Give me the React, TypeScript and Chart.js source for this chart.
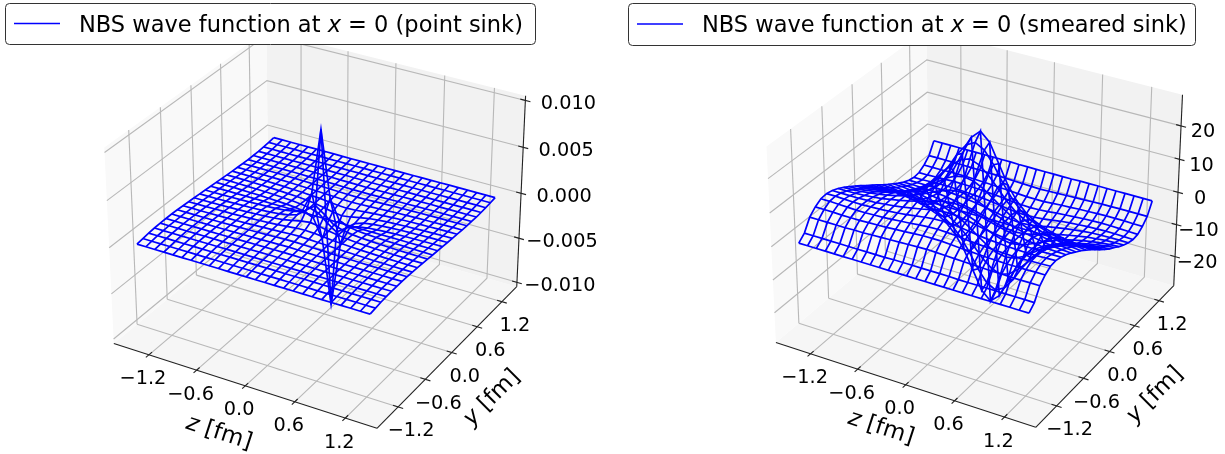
import React, { useEffect, useRef } from "react";
import { Chart, registerables } from "chart.js";

Chart.register(...registerables);

const latticeFm = [-1.44,-1.328,-1.216,-1.104,-0.992,-0.88,-0.768,-0.656,-0.544,-0.432,-0.32,-0.208,-0.096,0.016,0.128,0.24,0.352,0.464,0.576,0.688,0.8,0.912,1.024,1.136,1.248,1.36];
const latticeIndex = [-13,-12,-11,-10,-9,-8,-7,-6,-5,-4,-3,-2,-1,0,1,2,3,4,5,6,7,8,9,10,11,12];
const spaceTicks = [-1.2,-0.6,0,0.6,1.2];
const spaceTickLabels = ["\u22121.2","\u22120.6","0.0","0.6","1.2"];
const pointValueTicks = [-0.01,-0.005,0,0.005,0.01];
const pointValueLabels = ["\u22120.010","\u22120.005","0.000","0.005","0.010"];
const smearedValueTicks = [-20,-10,0,10,20];
const smearedValueLabels = ["\u221220","\u221210","0","10","20"];

// amplitude on y<0 by |y index| (rows) and |z index| (columns), 1e-4 units
const pointSinkAmplitude = [
  [0,0,0,0,0,0,0,0,0,0,0,0,0,0],
  [100,30,9,5,3.3,2.5,1.9,1.5,1.2,1,0.8,0.6,0.5,0.5],
  [24,17,9,5.8,4.3,3.3,2.7,2.2,1.9,1.6,1.4,1.2,1.1,1],
  [11,9.5,7.5,5.6,4.5,3.7,3.2,2.7,2.4,2.1,1.9,1.7,1.6,1.5],
  [7.5,7,6,5,4.4,3.8,3.4,3,2.7,2.5,2.3,2.2,2.1,2],
  [5.8,5.5,5,4.6,4.1,3.7,3.4,3.1,2.9,2.8,2.6,2.5,2.5,2.4],
  [4.9,4.7,4.4,4.1,3.8,3.6,3.4,3.2,3,2.9,2.8,2.8,2.8,2.8],
  [4.2,4.1,3.9,3.7,3.5,3.4,3.2,3.1,3,3,3,3,3,3],
  [3.7,3.6,3.5,3.4,3.3,3.2,3.1,3,3,3,3,3,3,3],
  [3.2,3.2,3.1,3,3,2.9,2.9,2.9,2.9,2.9,2.9,2.9,2.9,2.9],
  [2.7,2.7,2.6,2.6,2.6,2.6,2.6,2.6,2.5,2.5,2.5,2.5,2.5,2.5],
  [2,2,2,2,2,2,2,1.9,1.9,1.9,1.9,1.9,1.9,1.9],
  [1.1,1.1,1.1,1.1,1.1,1.1,1,1,1,1,1,1,1,1],
  [0,0,0,0,0,0,0,0,0,0,0,0,0,0],
];
const smearedSinkAmplitude = [
  [0,0,0,0,0,0,0,0,0,0,0,0,0,0],
  [27,24.5,19,13.5,9.5,6.8,5,3.9,3.1,2.5,2.1,1.7,1.4,1.2],
  [25,23.5,20,15.5,11.7,8.8,6.9,5.6,4.7,4,3.4,3,2.7,2.5],
  [21.5,20.5,18.3,15.3,12.2,9.8,8.1,6.9,5.9,5.2,4.6,4.2,3.9,3.7],
  [17.5,17,15.7,13.8,11.8,10,8.7,7.6,6.8,6.2,5.6,5.2,4.9,4.8],
  [14.6,14.2,13.3,12.1,10.8,9.7,8.7,8,7.4,6.9,6.5,6.2,6,5.9],
  [12.5,12.2,11.6,10.8,10,9.3,8.7,8.2,7.7,7.4,7.1,7,6.9,6.9],
  [11,10.8,10.4,9.8,9.3,8.8,8.4,8.1,7.8,7.7,7.6,7.6,7.6,7.6],
  [9.9,9.8,9.5,9.1,8.7,8.4,8.2,8,7.9,7.8,7.8,7.9,8,8],
  [8.9,8.8,8.6,8.3,8.1,7.9,7.7,7.6,7.5,7.5,7.6,7.7,7.8,7.8],
  [7.6,7.6,7.4,7.2,7.1,6.9,6.8,6.7,6.6,6.6,6.6,6.7,6.7,6.7],
  [5.8,5.7,5.6,5.5,5.4,5.3,5.2,5.1,5.1,5,5,5,5,5],
  [1.7,1.7,1.7,1.7,1.6,1.6,1.6,1.6,1.6,1.6,1.6,1.6,1.6,1.6],
  [0,0,0,0,0,0,0,0,0,0,0,0,0,0],
];

const FONT = '"DejaVu Sans"';
const W = 612;
const H = 454;
const SY = 2500;
const SPACE_C = -0.04;
const SPACE_HALF = 1.61;
const BOX = [1.1905, 1.1905, 0.8929];

type Pt = { x: number; y: number };
type PanelSpec = {
  sx: number; cx: number; cy: number; amplitude: number[][]; unit: number; valueLim: number;
  valueTicks: number[]; valueLabels: string[]; valueLabelDx: number; valueLabelDy: number;
  legendTail: string; legendBox: number[]; zLabel: number[]; yLabel: number[];
};

function project(z: number, y: number, f: number, lim: number): Pt {
  const dx = ((z - SPACE_C) / SPACE_HALF) * (BOX[0] / 2);
  const dy = ((y - SPACE_C) / SPACE_HALF) * (BOX[1] / 2);
  const dz = (f / lim) * (BOX[2] / 2);
  const xe = 0.86603 * dx + 0.5 * dy;
  const ye = -0.25 * dx + 0.43301 * dy + 0.86603 * dz;
  const d = 10 - (0.43301 * dx - 0.75 * dy + 0.5 * dz);
  return { x: xe / d, y: ye / d };
}

function drawMath(ctx: CanvasRenderingContext2D, parts: [string, boolean][], x: number, y: number, size: number) {
  let at = x;
  for (const [t, it] of parts) {
    ctx.font = `${it ? "italic " : ""}${size}px ${FONT}`;
    ctx.fillText(t, at, y);
    at += ctx.measureText(t).width;
  }
  return at - x;
}

function measureMath(ctx: CanvasRenderingContext2D, parts: [string, boolean][], size: number) {
  let w = 0;
  for (const [t, it] of parts) {
    ctx.font = `${it ? "italic " : ""}${size}px ${FONT}`;
    w += ctx.measureText(t).width;
  }
  return w;
}

function buildDatasets(s: PanelSpec) {
  const L = s.valueLim;
  const zMin = SPACE_C - SPACE_HALF, zMax = SPACE_C + SPACE_HALF;
  const yMin = zMin, yMax = zMax;
  const P = (z: number, y: number, f: number) => project(z, y, f, L);
  const ds: any[] = [];
  const pane = (pts: Pt[], color: string) =>
    ds.push({ data: [...pts, pts[0]], showLine: true, fill: "shape", backgroundColor: color, borderWidth: 0, borderColor: "transparent", pointRadius: 0, order: 100 });
  pane([P(zMin, yMin, -L), P(zMin, yMax, -L), P(zMin, yMax, L), P(zMin, yMin, L)], "#f9f9f9");
  pane([P(zMin, yMax, -L), P(zMax, yMax, -L), P(zMax, yMax, L), P(zMin, yMax, L)], "#f2f2f2");
  pane([P(zMin, yMin, -L), P(zMax, yMin, -L), P(zMax, yMax, -L), P(zMin, yMax, -L)], "#f6f6f6");
  const line = (pts: Pt[], color: string, width: number, order: number) =>
    ds.push({ data: pts, showLine: true, borderColor: color, borderWidth: width, pointRadius: 0, fill: false, order, tension: 0 });
  const grid = "#b8b8b8";
  for (const t of spaceTicks) {
    line([P(t, yMin, -L), P(t, yMax, -L), P(t, yMax, L)], grid, 1.1, 50);
    line([P(zMin, t, -L), P(zMax, t, -L)], grid, 1.1, 50);
    line([P(zMin, t, -L), P(zMin, t, L)], grid, 1.1, 50);
  }
  for (const t of s.valueTicks) {
    line([P(zMin, yMin, t), P(zMin, yMax, t), P(zMax, yMax, t)], grid, 1.1, 50);
  }
  const axis = "#222222";
  line([P(zMin, yMin, -L), P(zMax, yMin, -L)], axis, 1.1, 40);
  line([P(zMax, yMin, -L), P(zMax, yMax, -L)], axis, 1.1, 40);
  line([P(zMax, yMax, -L), P(zMax, yMax, L)], axis, 1.1, 40);
  const d = 0.06;
  for (const t of spaceTicks) {
    line([P(t, yMin - d, -L), P(t, yMin + d, -L)], axis, 1.1, 40);
    line([P(zMax - d, t, -L), P(zMax + d, t, -L)], axis, 1.1, 40);
  }
  for (const t of s.valueTicks) line([P(zMax - d, yMax, t), P(zMax + d, yMax, t)], axis, 1.1, 40);

  const value = (iz: number, iy: number) => {
    const a = s.amplitude[Math.abs(iy)][Math.abs(iz)] * s.unit;
    return iy > 0 ? -a : a;
  };
  latticeFm.forEach((yv, r) => {
    line(latticeFm.map((zv, c) => P(zv, yv, value(latticeIndex[c], latticeIndex[r]))), "#0000ff", 1.7, 1);
  });
  latticeFm.forEach((zv, c) => {
    line(latticeFm.map((yv, r) => P(zv, yv, value(latticeIndex[c], latticeIndex[r]))), "#0000ff", 1.7, 1);
  });
  return ds;
}

function Panel({ spec, left }: { spec: PanelSpec; left: number }) {
  const ref = useRef<HTMLCanvasElement>(null);
  useEffect(() => {
    const P = (z: number, y: number, f: number) => project(z, y, f, spec.valueLim);
    const zMax = SPACE_C + SPACE_HALF, yMin = SPACE_C - SPACE_HALF, yMax = zMax;
    const textPlugin = {
      id: "textPlugin",
      afterDraw(chart: any) {
        const ctx: CanvasRenderingContext2D = chart.ctx;
        const px = (p: Pt) => [chart.scales.x.getPixelForValue(p.x), chart.scales.y.getPixelForValue(p.y)];
        ctx.save();
        ctx.fillStyle = "#000";
        ctx.textAlign = "center";
        ctx.textBaseline = "middle";
        ctx.font = `19.3px ${FONT}`;
        spaceTicks.forEach((t, i) => {
          const a = px(P(t, yMin, -spec.valueLim));
          ctx.fillText(spaceTickLabels[i], a[0] - 6, a[1] + 24.5);
          const b = px(P(zMax, t, -spec.valueLim));
          ctx.fillText(spaceTickLabels[i], b[0] + 13, b[1] + 24.5);
        });
        spec.valueTicks.forEach((t, i) => {
          const a = px(P(zMax, yMax, t));
          ctx.fillText(spec.valueLabels[i], a[0] + spec.valueLabelDx, a[1] + spec.valueLabelDy);
        });
        const title = (parts: [string, boolean][], at: number[], deg: number) => {
          ctx.save();
          ctx.translate(at[0] - left, at[1]);
          ctx.rotate((deg * Math.PI) / 180);
          ctx.textAlign = "left";
          const w = measureMath(ctx, parts, 23);
          drawMath(ctx, parts, -w / 2, 0, 23);
          ctx.restore();
        };
        title([["z", true], [" [fm]", false]], spec.zLabel, 18);
        title([["y", true], [" [fm]", false]], spec.yLabel, -45);
        const [bx, by, bw, bh] = spec.legendBox;
        const lx = bx - left;
        ctx.beginPath();
        ctx.roundRect(lx + 0.5, by + 0.5, bw, bh, 4);
        ctx.fillStyle = "#fff";
        ctx.fill();
        ctx.strokeStyle = "#333";
        ctx.lineWidth = 1;
        ctx.stroke();
        ctx.beginPath();
        ctx.moveTo(lx + 9, by + bh / 2);
        ctx.lineTo(lx + 55, by + bh / 2);
        ctx.strokeStyle = "#0000ff";
        ctx.lineWidth = 1.4;
        ctx.stroke();
        ctx.fillStyle = "#000";
        ctx.textAlign = "left";
        ctx.textBaseline = "alphabetic";
        drawMath(ctx, [["NBS wave function at ", false], ["x", true], [" = 0 ", false], [spec.legendTail, false]], lx + 74, by + bh / 2 + 8, 22.5);
        ctx.restore();
      },
    };
    const chart = new Chart(ref.current!, {
      type: "scatter",
      data: { datasets: buildDatasets(spec) },
      options: {
        responsive: false,
        animation: false,
        layout: { padding: 0 },
        plugins: { legend: { display: false }, tooltip: { enabled: false } },
        scales: {
          x: { type: "linear", display: false, min: (left - spec.cx) / spec.sx, max: (left + W + (left ? 1 : 0) - spec.cx) / spec.sx },
          y: { type: "linear", display: false, min: (spec.cy - H) / SY, max: spec.cy / SY },
        },
      },
      plugins: [textPlugin],
    } as any);
    return () => chart.destroy();
  }, []);
  return <canvas ref={ref} width={W + (left ? 1 : 0)} height={H} style={{ position: "absolute", left, top: 0, width: W + (left ? 1 : 0), height: H, display: "block" }} />;
}

const pointSpec: PanelSpec = {
  sx: 2532, cx: 319, cy: 220, amplitude: pointSinkAmplitude, unit: 1e-4, valueLim: 0.0105,
  valueTicks: pointValueTicks, valueLabels: pointValueLabels, valueLabelDx: 43, valueLabelDy: 3.5,
  legendTail: "(point sink)", legendBox: [5, 3, 530, 41], zLabel: [219, 433], yLabel: [492, 398],
};
const smearedSpec: PanelSpec = {
  sx: 2500, cx: 978.5, cy: 219, amplitude: smearedSinkAmplitude, unit: 1, valueLim: 29.2,
  valueTicks: smearedValueTicks, valueLabels: smearedValueLabels, valueLabelDx: 22, valueLabelDy: 6.5,
  legendTail: "(smeared sink)", legendBox: [628, 3, 567, 42], zLabel: [881, 428], yLabel: [1155, 395],
};

export default function App() {
  return (
    <div style={{ position: "absolute", left: 0, top: 0, width: 1225, height: H, background: "#fff", overflow: "hidden" }}>
      <Panel spec={pointSpec} left={0} />
      <Panel spec={smearedSpec} left={612} />
    </div>
  );
}
